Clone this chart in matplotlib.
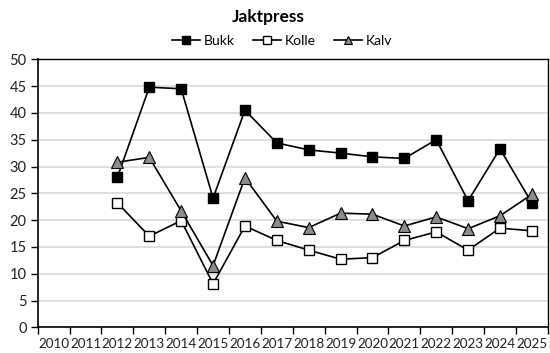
import matplotlib
matplotlib.use("Agg")
import matplotlib.pyplot as plt
import numpy as np

years = [str(y) for y in range(2010, 2026)]
data_years = list(range(2012, 2026))
bukk = [28.0, 44.8, 44.5, 24.1, 40.5, 34.4, 33.1, 32.5, 31.8, 31.5, 35.0, 23.6, 33.3, 23.2]
kolle = [23.2, 17.0, 19.9, 8.1, 18.9, 16.2, 14.4, 12.7, 13.0, 16.2, 17.8, 14.4, 18.5, 18.0]
kalv = [30.8, 31.7, 21.7, 11.5, 27.9, 19.8, 18.6, 21.3, 21.1, 18.9, 20.6, 18.4, 20.8, 24.8]
yticks = list(range(0, 55, 5))

plt.rcParams['font.family'] = ['Lato', 'DejaVu Sans']

fig = plt.figure(figsize=(5.5, 3.53), dpi=100)
ax = fig.add_axes([0.0686, 0.0728, 0.9274, 0.7592])

xpos = np.array([y - 2010 for y in data_years], dtype=float)
ax.plot(xpos, bukk, color='black', lw=1.2, marker='s', ms=7, mfc='black', mec='black', label='Bukk', zorder=3)
ax.plot(xpos, kolle, color='black', lw=1.2, marker='s', ms=7, mfc='white', mec='black', mew=1.0, label='Kolle', zorder=3)
ax.plot(xpos, kalv, color='black', lw=1.2, marker='^', ms=8, mfc='#8c8c8c', mec='black', mew=0.8, label='Kalv', zorder=4)

ax.set_xlim(-0.5, len(years) - 0.5)
ax.set_ylim(0, 50)
ax.set_yticks(yticks)
ax.set_yticklabels([str(v) for v in yticks], fontsize=10.5, color='#222222')
ax.set_xticks(np.arange(len(years)))
ax.set_xticklabels(years, fontsize=9.7, color='#222222')
ax.set_xticks(np.arange(-0.5, len(years), 1.0), minor=True)
ax.tick_params(axis='x', which='major', length=0, pad=8)
ax.tick_params(axis='x', which='minor', length=5, width=1, direction='out', color='black')
ax.tick_params(axis='y', length=5, width=1, direction='out', pad=3)
ax.yaxis.grid(True, color='#d9d9d9', lw=1.2)
ax.set_axisbelow(True)
for s in ax.spines.values():
    s.set_color('black')
    s.set_linewidth(1.2)
ax.spines['top'].set_linewidth(1.0)
ax.spines['right'].set_linewidth(1.0)

fig.text(0.487, 0.953, 'Jaktpress', ha='center', va='center', fontsize=12.5, fontweight='bold')
fig.legend(loc='center', bbox_to_anchor=(0.513, 0.885), ncol=3, frameon=False, fontsize=10,
           handlelength=2.0, columnspacing=1.3, handletextpad=0.3, borderaxespad=0, markerscale=0.75)

fig.savefig('out.png', dpi=100)
